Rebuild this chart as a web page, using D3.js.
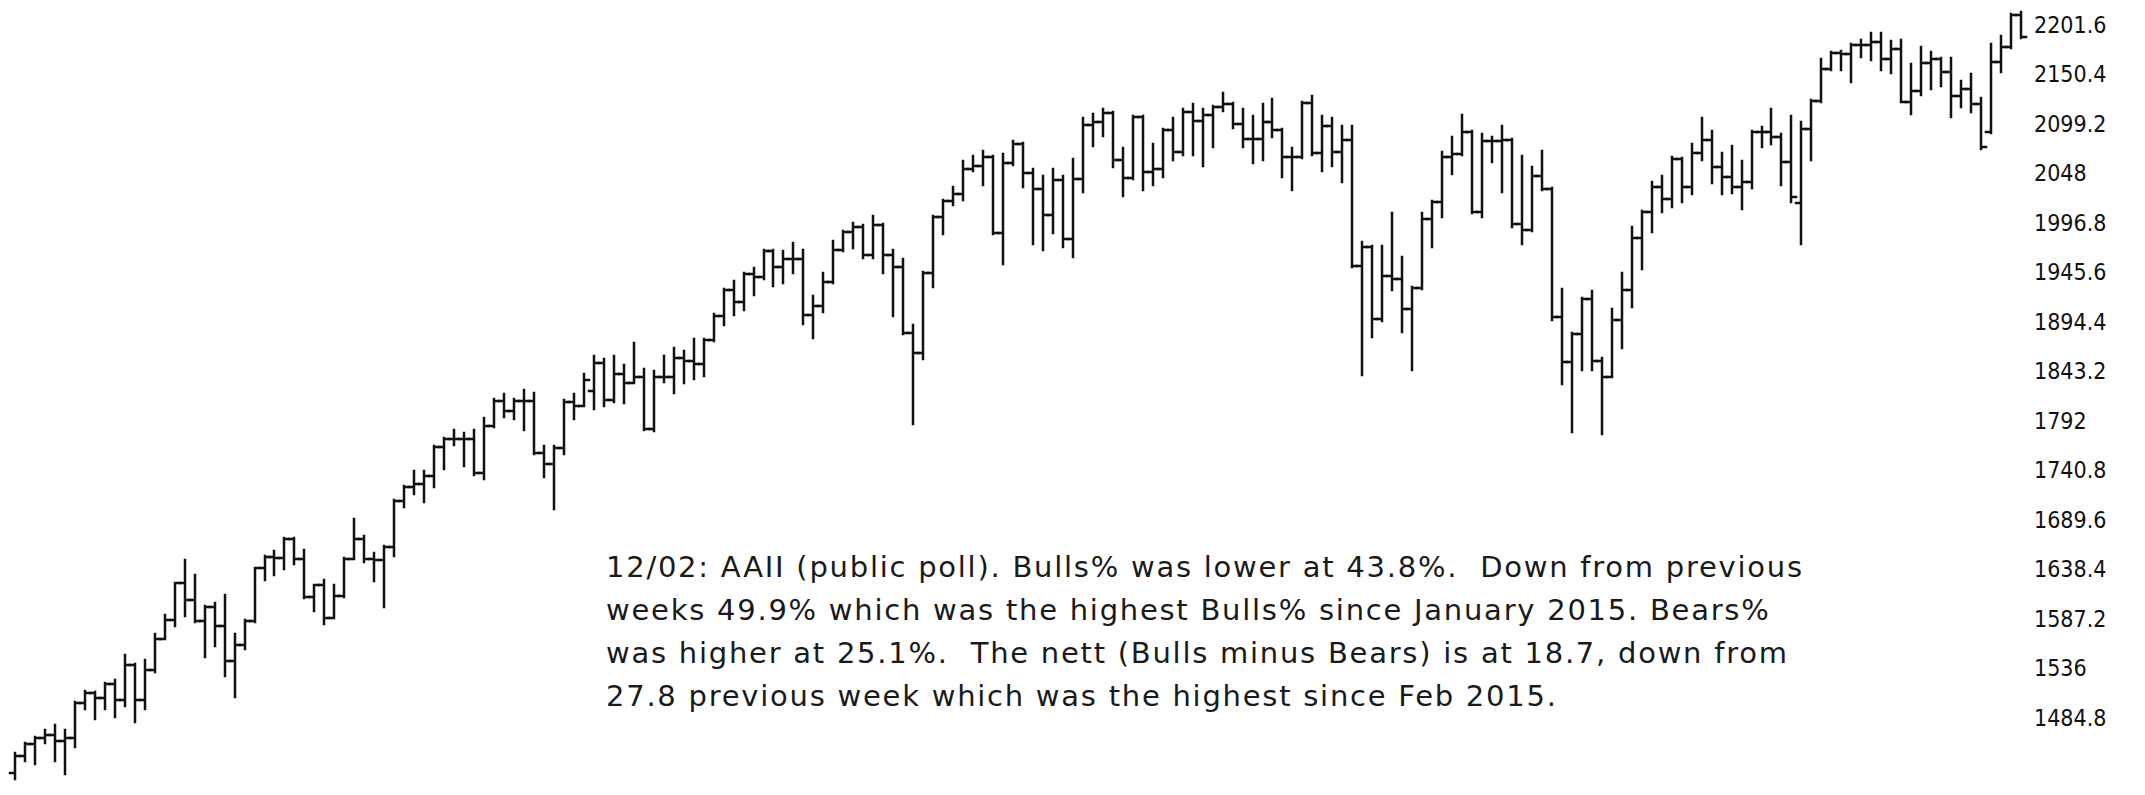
<!DOCTYPE html>
<html lang="en">

<head>
    <script src="https://cdnjs.cloudflare.com/ajax/libs/d3/7.8.5/d3.min.js"></script>
    <style>
        body { margin: 0; background: #fff; }
    </style>
</head>

<body>
    <script>
        var w = 2145;
        var h = 795;

        // weekly OHLC
        var opens = [
            1428, 1446, 1458, 1464, 1467, 1461, 1464, 1500, 1511, 1505,
            1520, 1503, 1540, 1503, 1534, 1567, 1586, 1624, 1607, 1585,
            1600, 1580, 1544, 1560, 1585, 1640, 1651, 1650, 1670, 1649,
            1610, 1622, 1588, 1611, 1649, 1670, 1649, 1648, 1662, 1709,
            1724, 1727, 1735, 1765, 1773, 1773, 1773, 1738, 1787, 1813,
            1802, 1813, 1813, 1759, 1748, 1764, 1812, 1808, 1823, 1852,
            1814, 1841, 1831, 1838, 1784, 1838, 1837, 1857, 1854, 1851,
            1876, 1901, 1928, 1915, 1944, 1941, 1968, 1951, 1960, 1960,
            1902, 1911, 1936, 1969, 1988, 1993, 1964, 1995, 1964, 1951,
            1883, 1862, 1945, 2003, 2020, 2027, 2053, 2056, 2065, 1986,
            2059, 2079, 2048, 2032, 2005, 2041, 1980, 2042, 2098, 2101,
            2111, 2062, 2043, 2106, 2050, 2053, 2093, 2070, 2112, 2102,
            2109, 2117, 2120, 2099, 2084, 2084, 2101, 2093, 2065, 2065,
            2121, 2069, 2097, 2070, 2083, 1952, 1972, 1897, 1942, 1939,
            1908, 1930, 2001, 2019, 2065, 2068, 2091, 2008, 2082, 2082,
            2083, 1996, 1990, 2045, 2032, 1900, 1853, 1882, 1918, 1854,
            1838, 1896, 1928, 1981, 2008, 2034, 2022, 2063, 2034, 2069,
            2083, 2055, 2044, 2034, 2039, 2091, 2091, 2086, 2060, 2017,
            2094, 2123, 2156, 2173, 2172, 2181, 2181, 2184, 2166, 2177,
            2122, 2133, 2162, 2166, 2153, 2128, 2135, 2120, 2091, 2163,
            2179, 2212
        ];
        var highs = [
            1449, 1459, 1465, 1472, 1478, 1472, 1501, 1513, 1512, 1521,
            1524, 1550, 1541, 1545, 1572, 1591, 1624, 1648, 1633, 1601,
            1604, 1612, 1572, 1586, 1640, 1652, 1658, 1671, 1671, 1659,
            1622, 1628, 1622, 1650, 1691, 1673, 1655, 1663, 1710, 1725,
            1740, 1740, 1766, 1774, 1783, 1780, 1783, 1795, 1815, 1820,
            1815, 1824, 1821, 1766, 1766, 1814, 1820, 1841, 1859, 1856,
            1859, 1850, 1873, 1846, 1844, 1859, 1867, 1864, 1877, 1877,
            1903, 1929, 1937, 1945, 1950, 1969, 1969, 1968, 1976, 1969,
            1921, 1945, 1978, 1989, 1997, 1995, 2004, 1996, 1969, 1960,
            1891, 1946, 2004, 2021, 2034, 2061, 2066, 2071, 2066, 2068,
            2082, 2080, 2053, 2045, 2053, 2045, 2063, 2105, 2110, 2115,
            2112, 2074, 2107, 2107, 2079, 2094, 2105, 2115, 2120, 2115,
            2118, 2131, 2121, 2115, 2107, 2120, 2125, 2094, 2074, 2122,
            2128, 2107, 2105, 2097, 2097, 1977, 1973, 1973, 2007, 1962,
            1931, 2007, 2020, 2070, 2086, 2109, 2092, 2089, 2086, 2097,
            2084, 2066, 2055, 2071, 2033, 1929, 1883, 1919, 1926, 1857,
            1908, 1945, 1993, 2009, 2039, 2045, 2065, 2064, 2079, 2105,
            2092, 2069, 2076, 2061, 2092, 2096, 2115, 2089, 2107, 2101,
            2124, 2166, 2174, 2175, 2182, 2186, 2193, 2193, 2185, 2186,
            2161, 2179, 2174, 2167, 2167, 2144, 2151, 2126, 2182, 2190,
            2213, 2215
        ];
        var lows = [
            1422, 1440, 1437, 1459, 1440, 1427, 1455, 1494, 1484, 1494,
            1486, 1497, 1481, 1494, 1532, 1567, 1580, 1590, 1584, 1548,
            1559, 1528, 1507, 1556, 1584, 1628, 1633, 1639, 1644, 1609,
            1595, 1582, 1588, 1610, 1649, 1646, 1626, 1600, 1652, 1703,
            1716, 1708, 1724, 1742, 1767, 1745, 1736, 1732, 1786, 1796,
            1794, 1783, 1758, 1734, 1701, 1758, 1794, 1807, 1804, 1808,
            1812, 1811, 1831, 1783, 1782, 1832, 1821, 1831, 1835, 1839,
            1875, 1891, 1902, 1907, 1922, 1939, 1932, 1935, 1945, 1892,
            1878, 1905, 1935, 1968, 1971, 1961, 1961, 1945, 1901, 1882,
            1789, 1856, 1931, 1985, 2015, 2021, 2051, 2036, 1985, 1954,
            2057, 2034, 1975, 1969, 1986, 1972, 1962, 2029, 2076, 2087,
            2055, 2025, 2042, 2031, 2036, 2044, 2062, 2067, 2067, 2056,
            2075, 2113, 2095, 2075, 2059, 2062, 2086, 2044, 2031, 2064,
            2067, 2051, 2056, 2039, 1951, 1840, 1879, 1895, 1928, 1884,
            1845, 1929, 1972, 2003, 2047, 2067, 2007, 2003, 2060, 2029,
            1993, 1975, 1989, 2031, 1896, 1830, 1781, 1845, 1845, 1779,
            1837, 1867, 1910, 1949, 1988, 2008, 2013, 2019, 2027, 2062,
            2038, 2027, 2028, 2011, 2033, 2075, 2079, 2036, 2019, 1975,
            2062, 2122, 2155, 2155, 2143, 2168, 2165, 2155, 2152, 2122,
            2110, 2129, 2135, 2139, 2106, 2117, 2112, 2073, 2090, 2153,
            2178, 2188
        ];
        var closes = [
            1446, 1458, 1464, 1467, 1461, 1464, 1500, 1511, 1505, 1520,
            1503, 1540, 1503, 1534, 1567, 1586, 1624, 1607, 1585, 1600,
            1580, 1544, 1560, 1585, 1640, 1651, 1650, 1670, 1649, 1610,
            1622, 1588, 1611, 1649, 1670, 1649, 1648, 1662, 1709, 1724,
            1727, 1735, 1765, 1773, 1773, 1773, 1738, 1787, 1813, 1802,
            1813, 1813, 1759, 1748, 1764, 1812, 1808, 1834, 1852, 1814,
            1841, 1831, 1838, 1784, 1838, 1837, 1857, 1854, 1851, 1876,
            1901, 1928, 1915, 1944, 1941, 1968, 1951, 1960, 1960, 1902,
            1911, 1936, 1969, 1988, 1993, 1964, 1995, 1964, 1951, 1883,
            1862, 1945, 2003, 2020, 2027, 2053, 2056, 2065, 1986, 2059,
            2079, 2048, 2032, 2005, 2041, 1980, 2042, 2098, 2101, 2111,
            2062, 2043, 2106, 2050, 2053, 2093, 2070, 2112, 2102, 2109,
            2117, 2120, 2099, 2084, 2084, 2101, 2093, 2065, 2065, 2121,
            2069, 2097, 2070, 2083, 1952, 1972, 1897, 1942, 1939, 1908,
            1930, 2001, 2019, 2065, 2068, 2091, 2008, 2082, 2082, 2083,
            1996, 1990, 2045, 2032, 1900, 1853, 1882, 1918, 1854, 1838,
            1896, 1928, 1981, 2008, 2034, 2022, 2063, 2034, 2069, 2083,
            2055, 2044, 2034, 2039, 2091, 2091, 2086, 2060, 2024, 2094,
            2123, 2156, 2173, 2172, 2181, 2181, 2184, 2166, 2177, 2122,
            2133, 2162, 2166, 2153, 2128, 2135, 2120, 2075, 2163, 2179,
            2212, 2189
        ];

        var tickValues = [1484.8, 1536, 1587.2, 1638.4, 1689.6, 1740.8, 1792, 1843.2,
            1894.4, 1945.6, 1996.8, 2048, 2099.2, 2150.4, 2201.6];
        var tickLabels = ["1484.8", "1536", "1587.2", "1638.4", "1689.6", "1740.8", "1792", "1843.2",
            "1894.4", "1945.6", "1996.8", "2048", "2099.2", "2150.4", "2201.6"];

        var note = [
            "12/02: AAII (public poll). Bulls% was lower at 43.8%.  Down from previous",
            "weeks 49.9% which was the highest Bulls% since January 2015. Bears%",
            "was higher at 25.1%.  The nett (Bulls minus Bears) is at 18.7, down from",
            "27.8 previous week which was the highest since Feb 2015."
        ];

        var svg = d3.select("body").append("svg")
            .attr("width", w)
            .attr("height", h);

        var x = d3.scaleLinear().domain([0, closes.length - 1]).range([15, 2021]);
        var y = d3.scaleLinear().domain([1484.8, 2201.6]).range([718, 25]);

        var half = 5;

        // bars: high-low line, open tick left, close tick right
        svg.append("g")
            .selectAll("path")
            .data(closes)
            .enter()
            .append("path")
            .attr("d", function (c, i) {
                var cx = Math.round(x(i));
                return "M" + cx + "," + Math.round(y(highs[i])) +
                    "V" + Math.round(y(lows[i])) +
                    "M" + (cx - half) + "," + Math.round(y(opens[i])) + "H" + cx +
                    "M" + cx + "," + Math.round(y(c)) + "H" + (cx + half);
            })
            .attr("fill", "none")
            .attr("stroke", "#111")
            .attr("stroke-width", 2.5)
            .attr("stroke-linecap", "square");

        // price scale on the right
        var axis = svg.append("g")
            .attr("transform", "translate(2030,0)")
            .call(d3.axisRight(y)
                .tickValues(tickValues)
                .tickFormat(function (d, i) { return tickLabels[i]; })
                .tickSize(0)
                .tickPadding(4));
        axis.select(".domain").remove();
        axis.selectAll("text")
            .attr("fill", "#111")
            .style("font-family", "'Liberation Sans Narrow', 'DejaVu Sans Condensed', sans-serif")
            .style("font-size", "23px");

        // comment box
        svg.append("g")
            .selectAll("text")
            .data(note)
            .enter()
            .append("text")
            .attr("x", 606)
            .attr("y", function (d, i) { return 577 + i * 43; })
            .attr("xml:space", "preserve")
            .style("white-space", "pre")
            .style("font-family", "'DejaVu Sans', Verdana, sans-serif")
            .style("font-size", "29px")
            .style("letter-spacing", "1.75px")
            .attr("fill", "#1a1a1a")
            .text(function (d) { return d; });
    </script>
</body>

</html>
